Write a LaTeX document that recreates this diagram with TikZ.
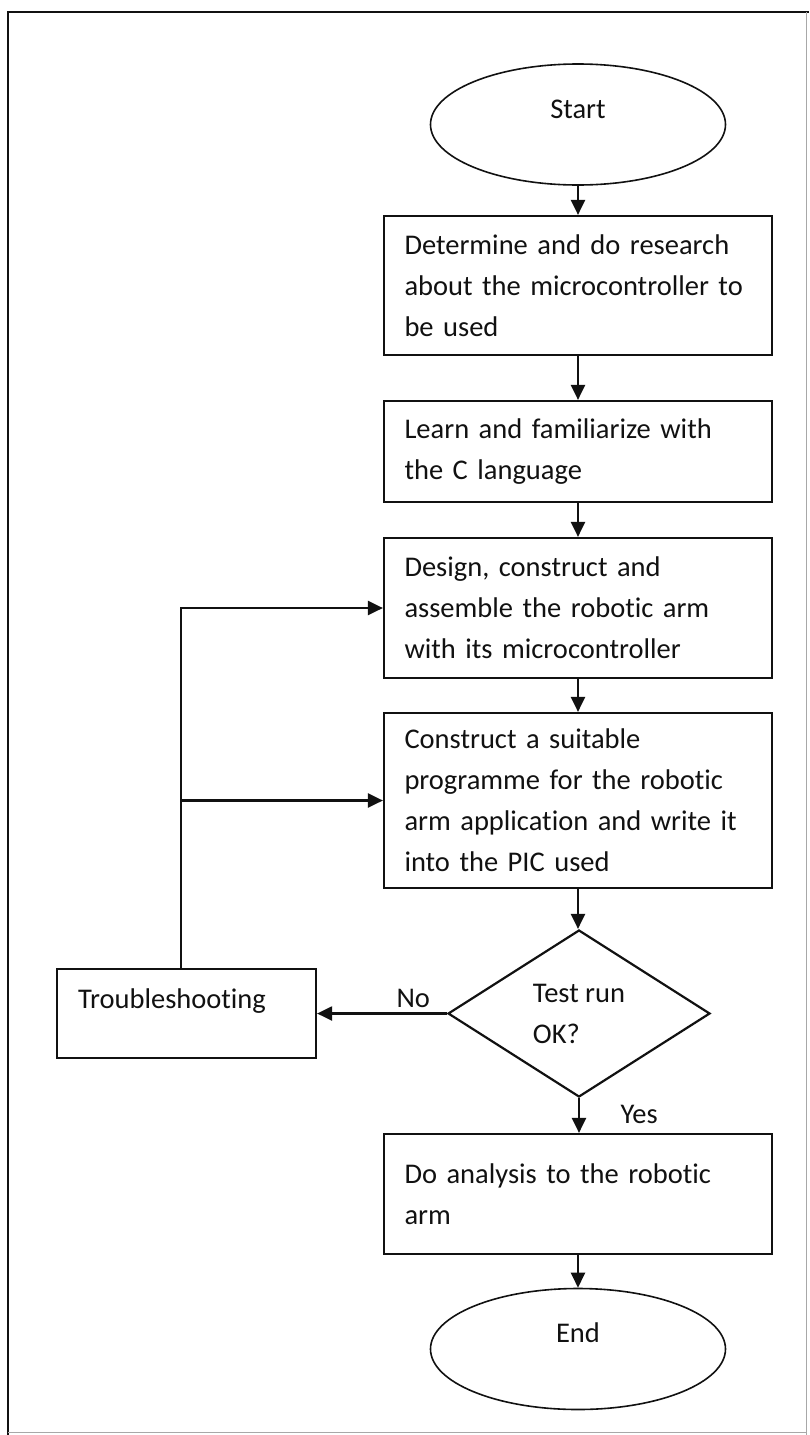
\documentclass[tikz,border=0pt]{standalone}
\usepackage{fontspec}
\setmainfont{Carlito}[Ligatures={NoCommon}]
\usetikzlibrary{arrows.meta, shapes.geometric}
\definecolor{Ink}{HTML}{111111}
\definecolor{Frame}{HTML}{A8A8A8}
\tikzset{
    flowtext/.style={font=\fontsize{28.5}{41}\selectfont, text=Ink},
    stepbox/.style={draw=Ink, line width=2.2pt, rectangle, flowtext, align=left,
        text width=347pt, inner xsep=20.5pt, inner ysep=0pt, minimum width=388pt},
    terminal/.style={draw=Ink, line width=1.6pt, ellipse, flowtext,
        minimum width=295pt, minimum height=121pt, text height=20pt, text depth=33pt},
    decision/.style={draw=Ink, line width=2.2pt, diamond, flowtext, align=left,
        minimum width=262pt, minimum height=167pt, inner sep=0pt},
    flow/.style={draw=Ink, line width=2.2pt, -{Triangle[length=15pt,width=14pt]}},
}

\begin{document}
\begin{tikzpicture}[x=1pt, y=-1pt]
\useasboundingbox (0,0) rectangle (809,1435);

% page frame
\draw[Ink, line width=1.8pt] (8,1435) -- (8,12) -- (809,12);
\draw[Frame, line width=0.8pt] (806,12) -- (806,1435);
\draw[Frame, line width=0.8pt] (8,1432) -- (806,1432);

% main column
\node[terminal] (start) at (578,124.5) {Start};
\node[stepbox, minimum height=139pt] (research) at (578,285.5)
    {Determine and do research\\about the microcontroller to\\be used};
\node[stepbox, minimum height=101pt] (learn) at (578,451.5)
    {Learn and familiarize with\\the C language};
\node[stepbox, minimum height=140pt] (build) at (578,608)
    {Design, construct and\\assemble the robotic arm\\with its microcontroller};
\node[stepbox, minimum height=175pt] (program) at (578,800.5)
    {Construct a suitable\\programme for the robotic\\arm application and write it\\into the PIC used};
\node[decision] (test) at (579,1013.5) {Test run\\OK?};
\node[stepbox, minimum height=120pt] (analysis) at (578,1194)
    {Do analysis to the robotic\\arm};
\node[terminal] (end) at (578,1349) {End};

% side branch
\node[draw=Ink, line width=2.2pt, rectangle, flowtext, align=left,
    text width=217pt, inner xsep=21pt, inner ysep=0pt,
    minimum width=259pt, minimum height=89pt,
    text height=20pt, text depth=31pt] (trouble) at (186.5,1013.5) {Troubleshooting};
\node[flowtext, anchor=base west] (nolabel) at (393,1007) {No};
\node[flowtext, anchor=base west] (yeslabel) at (617,1123) {Yes};

\draw[flow] (start) -- (research);
\draw[flow] (research) -- (learn);
\draw[flow] (learn) -- (build);
\draw[flow] (build) -- (program);
\draw[flow] (program) -- (program |- test.north);
\draw[flow] (test.south) -- (test.south |- analysis.north);
\draw[flow] (analysis) -- (end);
\draw[flow] (test.west) -- (trouble.east);

% loop back
\coordinate (fork) at ([xshift=-5.5pt]trouble.north |- program.west);
\draw[flow] ([xshift=-5.5pt]trouble.north) |- (build.west);
\draw[flow] (fork) -- (program.west);
\end{tikzpicture}
\end{document}
